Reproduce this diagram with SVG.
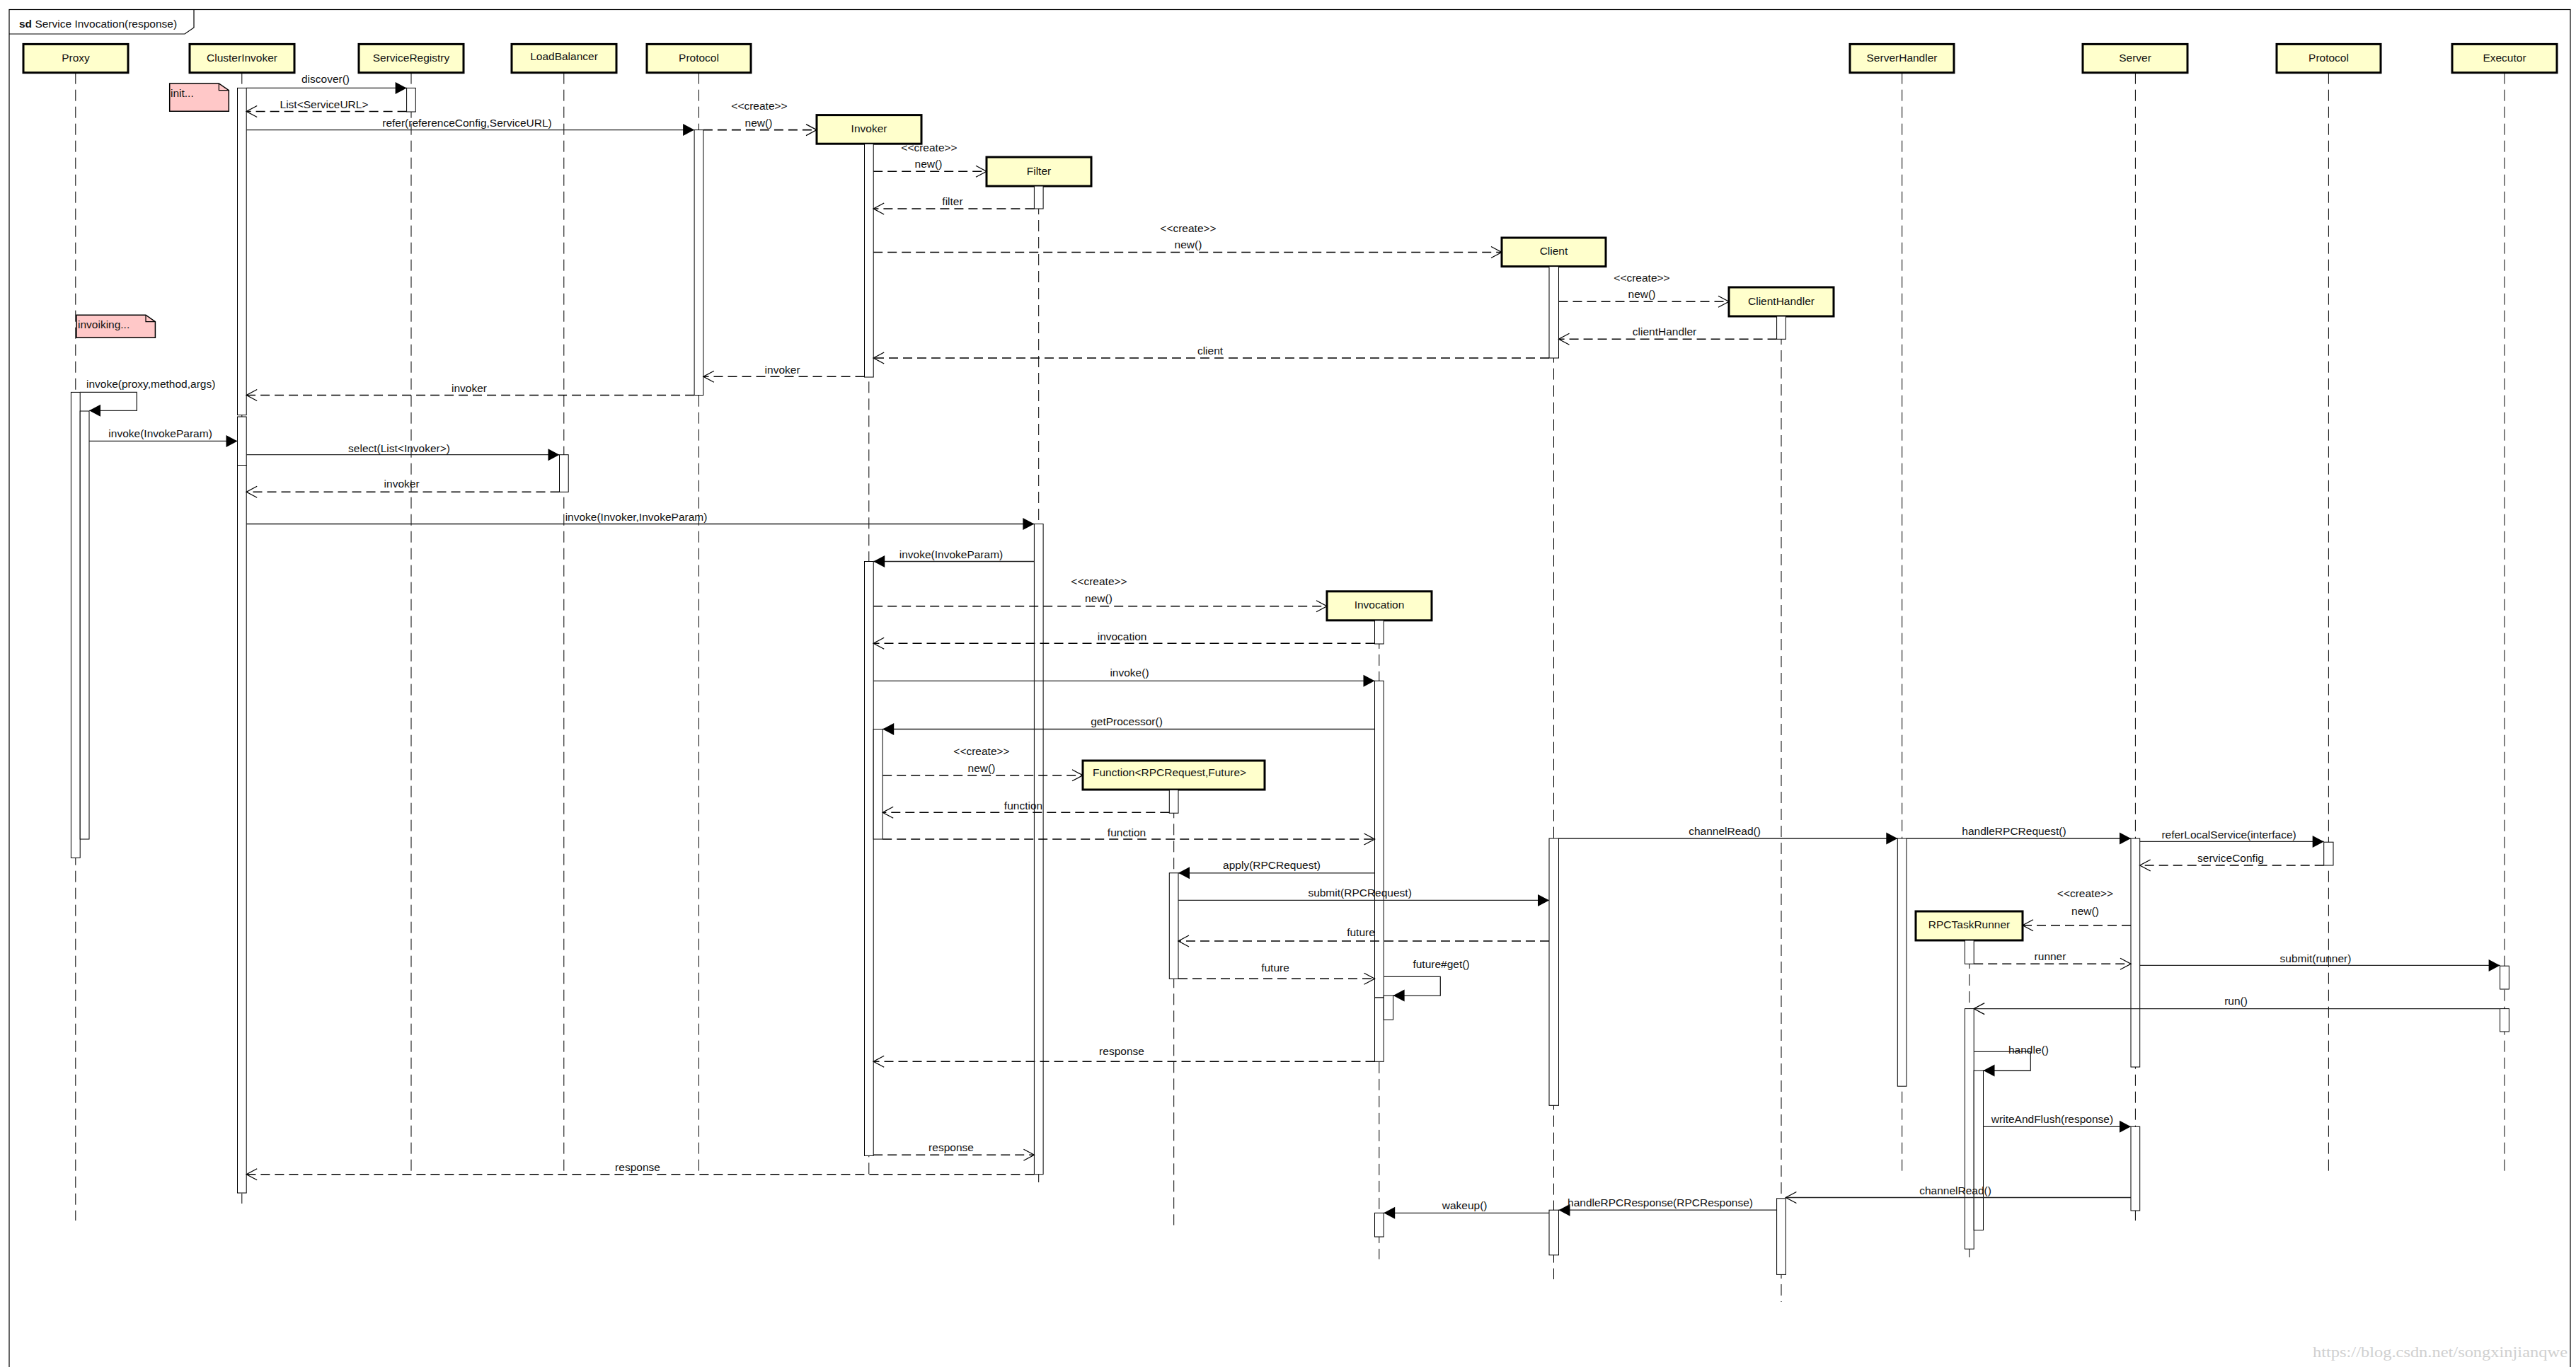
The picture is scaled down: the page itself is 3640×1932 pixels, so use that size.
<svg xmlns="http://www.w3.org/2000/svg" width="3640" height="1932" viewBox="0 0 3640 1932">
<style>
.hdr{fill:#ffffcc;stroke:#000;stroke-width:3}
.act{fill:#fff;stroke:#000;stroke-width:1}
.life{stroke:#000;stroke-width:1;stroke-dasharray:16 8;fill:none}
.m{stroke:#222;stroke-width:1.3;fill:none}
.r{stroke:#000;stroke-width:1.6;stroke-dasharray:13 7;fill:none}
.note{fill:#ffc8c8;stroke:#000;stroke-width:1.5}
text{font-family:"Liberation Sans",Arial,sans-serif;font-size:15.5px;fill:#111}
.c{text-anchor:middle}
</style>
<defs>
<marker id="fa" markerUnits="userSpaceOnUse" markerWidth="18" markerHeight="18" viewBox="0 0 18 18" refX="16" refY="8.5" orient="auto" overflow="visible"><path d="M0,0 L16,8.5 L0,17 z" fill="#000" stroke="none"/></marker>
<marker id="oa" markerUnits="userSpaceOnUse" markerWidth="18" markerHeight="18" viewBox="0 0 18 18" refX="15" refY="8" orient="auto" overflow="visible"><path d="M0,0 L15,8 L0,16" fill="none" stroke="#000" stroke-width="1.3"/></marker>
</defs>
<rect width="3640" height="1932" fill="#fff"/>
<g id="frame">
<rect x="13" y="13.5" width="3619" height="1930" fill="none" stroke="#000" stroke-width="1.2"/>
<path d="M13,48 H261 L274,39 V13.5" fill="none" stroke="#000" stroke-width="1.2"/>
<text x="27" y="39"><tspan font-weight="bold">sd</tspan> Service Invocation(response)</text>
</g>
<g id="note-init">
<path class="note" d="M239.7,117.9 H309.3 L323.3,127.7 V157.3 H239.7 Z"/>
<path d="M309.3,117.9 V127.7 H323.3" fill="none" stroke="#000" stroke-width="1.2"/>
<text x="241" y="137">init...</text>
</g>
<g id="note-invoking">
<path class="note" d="M108,445.2 H206 L219.4,454.6 V477.2 H108 Z"/>
<path d="M206,445.2 V454.6 H219.4" fill="none" stroke="#000" stroke-width="1.2"/>
<text x="110" y="464">invoiking...</text>
</g>
<g id="proxy">
<line class="life" x1="106.8" y1="102.7" x2="106.8" y2="1725"/>
<rect class="hdr" x="33" y="62.4" width="148" height="40.3"/>
<text class="c" x="107" y="86.5">Proxy</text>
<rect class="act" x="100.4" y="554.4" width="12.8" height="658"/>
<rect class="act" x="113.2" y="581" width="12.8" height="605"/>
</g>
<g id="clusterInvoker">
<line class="life" x1="341.8" y1="102.7" x2="341.8" y2="1701"/>
<rect class="hdr" x="268" y="62.4" width="148" height="40.3"/>
<text class="c" x="342" y="86.5">ClusterInvoker</text>
<rect class="act" x="335.5" y="124.4" width="12.7" height="462.1"/>
<rect class="act" x="335.5" y="589" width="12.7" height="68.5"/>
<rect class="act" x="335.5" y="657.5" width="12.7" height="1028.5"/>
</g>
<g id="serviceRegistry">
<line class="life" x1="581" y1="102.7" x2="581" y2="1662"/>
<rect class="hdr" x="507" y="62.4" width="148" height="40.3"/>
<text class="c" x="581" y="86.5">ServiceRegistry</text>
<rect class="act" x="574.6" y="124.4" width="12.7" height="33.6"/>
</g>
<g id="loadBalancer">
<line class="life" x1="796.8" y1="102.7" x2="796.8" y2="1662"/>
<rect class="hdr" x="723" y="62.4" width="148" height="40.3"/>
<text class="c" x="797" y="84.5">LoadBalancer</text>
<rect class="act" x="790.5" y="642.7" width="12.7" height="52.6"/>
</g>
<g id="protocol">
<line class="life" x1="987.5" y1="102.7" x2="987.5" y2="1662"/>
<rect class="hdr" x="914" y="62.4" width="147" height="40.3"/>
<text class="c" x="987.5" y="86.5">Protocol</text>
<rect class="act" x="981.1" y="183.6" width="12.8" height="374.9"/>
</g>
<g id="invoker">
<line class="life" x1="1227.8" y1="203.3" x2="1227.8" y2="1660"/>
<rect class="hdr" x="1154" y="162.6" width="148" height="40.6"/>
<text class="c" x="1228" y="187">Invoker</text>
<rect class="act" x="1221.5" y="203.3" width="12.7" height="329.7"/>
<rect class="act" x="1221.5" y="793.5" width="12.7" height="839.9"/>
<rect class="act" x="1234.2" y="1030.5" width="13" height="155.5"/>
</g>
<g id="filter">
<line class="life" x1="1467.7" y1="263" x2="1467.7" y2="1679"/>
<rect class="hdr" x="1394" y="222" width="148" height="41"/>
<text class="c" x="1468" y="246.5">Filter</text>
<rect class="act" x="1461.4" y="263" width="12.7" height="32"/>
<rect class="act" x="1461.4" y="740.5" width="12.7" height="919.2"/>
</g>
<g id="function">
<line class="life" x1="1658.7" y1="1116.3" x2="1658.7" y2="1731.5"/>
<rect class="hdr" x="1530" y="1075" width="257" height="41"/>
<text x="1544" y="1097">Function&lt;RPCRequest,Future&gt;</text>
<rect class="act" x="1652.3" y="1116.3" width="12.7" height="32.9"/>
<rect class="act" x="1652.3" y="1233.8" width="12.7" height="149.5"/>
</g>
<g id="invocation">
<line class="life" x1="1948.8" y1="876.9" x2="1948.8" y2="1779.6"/>
<rect class="hdr" x="1875" y="835.8" width="148" height="41"/>
<text class="c" x="1949" y="860">Invocation</text>
<rect class="act" x="1942.5" y="876.9" width="12.7" height="33.1"/>
<rect class="act" x="1942.5" y="962.3" width="12.7" height="447.7"/>
<rect class="act" x="1942.5" y="1410" width="12.7" height="90.3"/>
<rect class="act" x="1955.2" y="1407" width="13.4" height="34.2"/>
<rect class="act" x="1942.5" y="1714.3" width="12.7" height="33.7"/>
</g>
<g id="client">
<line class="life" x1="2195.5" y1="376.6" x2="2195.5" y2="1808"/>
<rect class="hdr" x="2122" y="336" width="147" height="40.6"/>
<text class="c" x="2195.5" y="360">Client</text>
<rect class="act" x="2189" y="376.6" width="13.5" height="129.4"/>
<rect class="act" x="2189" y="1185" width="13.5" height="377.3"/>
<rect class="act" x="2189" y="1710.2" width="13.5" height="63.6"/>
</g>
<g id="clientHandler">
<line class="life" x1="2517" y1="447" x2="2517" y2="1840"/>
<rect class="hdr" x="2443" y="406" width="148" height="41"/>
<text class="c" x="2517" y="430.5">ClientHandler</text>
<rect class="act" x="2510.6" y="447" width="12.8" height="32.3"/>
<rect class="act" x="2510.6" y="1693.8" width="12.8" height="107.6"/>
</g>
<g id="serverHandler">
<line class="life" x1="2687.7" y1="102.7" x2="2687.7" y2="1662"/>
<rect class="hdr" x="2614" y="62.4" width="147" height="40.3"/>
<text class="c" x="2687.5" y="86.5">ServerHandler</text>
<rect class="act" x="2681.3" y="1185" width="12.7" height="350.2"/>
</g>
<g id="rpcTaskRunner">
<line class="life" x1="2782.8" y1="1329" x2="2782.8" y2="1777"/>
<rect class="hdr" x="2707" y="1288" width="151" height="41"/>
<text class="c" x="2782.5" y="1312">RPCTaskRunner</text>
<rect class="act" x="2776.4" y="1329" width="12.8" height="33.3"/>
<rect class="act" x="2776.4" y="1425.6" width="12.8" height="339.6"/>
<rect class="act" x="2789.2" y="1513" width="13.3" height="225.5"/>
</g>
<g id="server">
<line class="life" x1="3017.4" y1="102.7" x2="3017.4" y2="1725"/>
<rect class="hdr" x="2943" y="62.4" width="148" height="40.3"/>
<text class="c" x="3017" y="86.5">Server</text>
<rect class="act" x="3011" y="1185" width="12.7" height="323"/>
<rect class="act" x="3011" y="1592.3" width="12.7" height="118.7"/>
</g>
<g id="protocol2">
<line class="life" x1="3290.4" y1="102.7" x2="3290.4" y2="1662"/>
<rect class="hdr" x="3217" y="62.4" width="147" height="40.3"/>
<text class="c" x="3290.5" y="86.5">Protocol</text>
<rect class="act" x="3283.7" y="1190.2" width="13.3" height="32.8"/>
</g>
<g id="executor">
<line class="life" x1="3539" y1="102.7" x2="3539" y2="1662"/>
<rect class="hdr" x="3465" y="62.4" width="148" height="40.3"/>
<text class="c" x="3539" y="86.5">Executor</text>
<rect class="act" x="3532.6" y="1365.2" width="12.8" height="32.8"/>
<rect class="act" x="3532.6" y="1425.6" width="12.8" height="32.4"/>
</g>
<g id="connectors">
<line class="m" x1="348.2" y1="124.4" x2="574.6" y2="124.4" marker-end="url(#fa)"/>
<text class="c" x="460" y="117">discover()</text>
<line class="r" x1="574.6" y1="157.5" x2="348.2" y2="157.5" marker-end="url(#oa)"/>
<text class="c" x="458" y="153">List&lt;ServiceURL&gt;</text>
<line class="m" x1="348.2" y1="183.6" x2="981.1" y2="183.6" marker-end="url(#fa)"/>
<text class="c" x="660" y="179">refer(referenceConfig,ServiceURL)</text>
<line class="r" x1="993.9" y1="183.6" x2="1154" y2="183.6" marker-end="url(#oa)"/>
<text class="c" x="1073" y="155">&lt;&lt;create&gt;&gt;</text>
<text class="c" x="1072" y="178.5">new()</text>
<line class="r" x1="1234.2" y1="242.3" x2="1394" y2="242.3" marker-end="url(#oa)"/>
<text class="c" x="1313" y="213.5">&lt;&lt;create&gt;&gt;</text>
<text class="c" x="1312" y="237.4">new()</text>
<line class="r" x1="1461.4" y1="295" x2="1234.2" y2="295" marker-end="url(#oa)"/>
<text class="c" x="1346" y="289.5">filter</text>
<line class="r" x1="1234.2" y1="356.5" x2="2122" y2="356.5" marker-end="url(#oa)"/>
<text class="c" x="1679" y="327.7">&lt;&lt;create&gt;&gt;</text>
<text class="c" x="1679" y="351">new()</text>
<line class="r" x1="2202.5" y1="426.3" x2="2443" y2="426.3" marker-end="url(#oa)"/>
<text class="c" x="2320" y="397.5">&lt;&lt;create&gt;&gt;</text>
<text class="c" x="2320" y="421">new()</text>
<line class="r" x1="2510.6" y1="479.3" x2="2202.5" y2="479.3" marker-end="url(#oa)"/>
<text class="c" x="2352" y="473.5">clientHandler</text>
<line class="r" x1="2189" y1="506" x2="1234.2" y2="506" marker-end="url(#oa)"/>
<text class="c" x="1710" y="501">client</text>
<line class="r" x1="1221.5" y1="532.3" x2="993.9" y2="532.3" marker-end="url(#oa)"/>
<text class="c" x="1105.6" y="527.7">invoker</text>
<line class="r" x1="981.1" y1="558.5" x2="348.2" y2="558.5" marker-end="url(#oa)"/>
<text class="c" x="663" y="554.4">invoker</text>
<path class="m" d="M113.2,554.4 H193.3 V580.3 H126" marker-end="url(#fa)"/>
<text x="122" y="548.3">invoke(proxy,method,args)</text>
<line class="m" x1="126" y1="623.4" x2="335.5" y2="623.4" marker-end="url(#fa)"/>
<text class="c" x="226.6" y="618">invoke(InvokeParam)</text>
<line class="m" x1="348.2" y1="642.7" x2="790.5" y2="642.7" marker-end="url(#fa)"/>
<text class="c" x="564" y="638.6">select(List&lt;Invoker&gt;)</text>
<line class="r" x1="790.5" y1="695.3" x2="348.2" y2="695.3" marker-end="url(#oa)"/>
<text class="c" x="567.6" y="689">invoker</text>
<line class="m" x1="348.2" y1="740.5" x2="1461.4" y2="740.5" marker-end="url(#fa)"/>
<text class="c" x="899" y="736.4">invoke(Invoker,InvokeParam)</text>
<line class="m" x1="1461.4" y1="793.5" x2="1234.2" y2="793.5" marker-end="url(#fa)"/>
<text class="c" x="1344" y="788.6">invoke(InvokeParam)</text>
<line class="r" x1="1234.2" y1="856.7" x2="1875" y2="856.7" marker-end="url(#oa)"/>
<text class="c" x="1553" y="826.8">&lt;&lt;create&gt;&gt;</text>
<text class="c" x="1552.5" y="851.4">new()</text>
<line class="r" x1="1942.5" y1="909.3" x2="1234.2" y2="909.3" marker-end="url(#oa)"/>
<text class="c" x="1585.6" y="904.8">invocation</text>
<line class="m" x1="1234.2" y1="962.3" x2="1942.5" y2="962.3" marker-end="url(#fa)"/>
<text class="c" x="1596" y="956">invoke()</text>
<line class="m" x1="1942.5" y1="1030.5" x2="1247.2" y2="1030.5" marker-end="url(#fa)"/>
<text class="c" x="1592" y="1025">getProcessor()</text>
<line class="r" x1="1247.2" y1="1095.8" x2="1530" y2="1095.8" marker-end="url(#oa)"/>
<text class="c" x="1387" y="1067">&lt;&lt;create&gt;&gt;</text>
<text class="c" x="1387" y="1090.8">new()</text>
<line class="r" x1="1652.3" y1="1148.3" x2="1247.2" y2="1148.3" marker-end="url(#oa)"/>
<text class="c" x="1446" y="1144.2">function</text>
<line class="r" x1="1247.2" y1="1186" x2="1942.5" y2="1186" marker-end="url(#oa)"/>
<text class="c" x="1592" y="1182">function</text>
<line class="m" x1="1942.5" y1="1233.8" x2="1665" y2="1233.8" marker-end="url(#fa)"/>
<text class="c" x="1797" y="1228">apply(RPCRequest)</text>
<line class="m" x1="1665" y1="1272.4" x2="2189" y2="1272.4" marker-end="url(#fa)"/>
<text class="c" x="1921.6" y="1267.4">submit(RPCRequest)</text>
<line class="m" x1="2202.5" y1="1185" x2="2681.3" y2="1185" marker-end="url(#fa)"/>
<text class="c" x="2437" y="1180">channelRead()</text>
<line class="m" x1="2694" y1="1185" x2="3011" y2="1185" marker-end="url(#fa)"/>
<text class="c" x="2846" y="1180">handleRPCRequest()</text>
<line class="m" x1="3023.7" y1="1189.4" x2="3283.7" y2="1189.4" marker-end="url(#fa)"/>
<text class="c" x="3149.6" y="1185.3">referLocalService(interface)</text>
<line class="r" x1="3283.7" y1="1223" x2="3023.7" y2="1223" marker-end="url(#oa)"/>
<text class="c" x="3152" y="1218">serviceConfig</text>
<line class="r" x1="3011" y1="1307.7" x2="2858" y2="1307.7" marker-end="url(#oa)"/>
<text class="c" x="2946.5" y="1268">&lt;&lt;create&gt;&gt;</text>
<text class="c" x="2946.5" y="1293">new()</text>
<line class="r" x1="2789.2" y1="1362.3" x2="3011" y2="1362.3" marker-end="url(#oa)"/>
<text class="c" x="2897" y="1357">runner</text>
<line class="m" x1="3023.7" y1="1364.4" x2="3532.6" y2="1364.4" marker-end="url(#fa)"/>
<text class="c" x="3272" y="1360">submit(runner)</text>
<line class="m" x1="3532.6" y1="1425.6" x2="2789.2" y2="1425.6" marker-end="url(#oa)"/>
<text class="c" x="3159.5" y="1420">run()</text>
<path class="m" d="M2789.2,1486.4 H2869.3 V1513 H2802.5" marker-end="url(#fa)"/>
<text class="c" x="2866.4" y="1489">handle()</text>
<line class="m" x1="2802.5" y1="1592.3" x2="3011" y2="1592.3" marker-end="url(#fa)"/>
<text class="c" x="2900" y="1587">writeAndFlush(response)</text>
<line class="m" x1="3011" y1="1692.5" x2="2523.4" y2="1692.5" marker-end="url(#oa)"/>
<text class="c" x="2763" y="1688.4">channelRead()</text>
<line class="m" x1="2510.6" y1="1710.2" x2="2202.5" y2="1710.2" marker-end="url(#fa)"/>
<text class="c" x="2346" y="1704.8">handleRPCResponse(RPCResponse)</text>
<line class="m" x1="2189" y1="1714.3" x2="1955.2" y2="1714.3" marker-end="url(#fa)"/>
<text class="c" x="2069.6" y="1709">wakeup()</text>
<line class="r" x1="2189" y1="1330" x2="1665" y2="1330" marker-end="url(#oa)"/>
<text class="c" x="1923" y="1323">future</text>
<path class="m" d="M1955.2,1380.4 H2035.3 V1407.1 H1968.6" marker-end="url(#fa)"/>
<text class="c" x="2036.5" y="1368">future#get()</text>
<line class="r" x1="1665" y1="1383.3" x2="1942.5" y2="1383.3" marker-end="url(#oa)"/>
<text class="c" x="1802" y="1373.4">future</text>
<line class="r" x1="1942.5" y1="1500.3" x2="1234.2" y2="1500.3" marker-end="url(#oa)"/>
<text class="c" x="1585" y="1491.3">response</text>
<line class="r" x1="1234.2" y1="1632.2" x2="1461.4" y2="1632.2" marker-end="url(#oa)"/>
<text class="c" x="1344" y="1626.8">response</text>
<line class="r" x1="1461.4" y1="1659.7" x2="348.2" y2="1659.7" marker-end="url(#oa)"/>
<text class="c" x="901" y="1654.7">response</text>
</g>
<text x="3268" y="1918" style="font-family:'Liberation Serif',serif;font-size:20px;fill:#d0d0d0" textLength="360" lengthAdjust="spacingAndGlyphs">https://blog.csdn.net/songxinjianqwe</text>
</svg>
